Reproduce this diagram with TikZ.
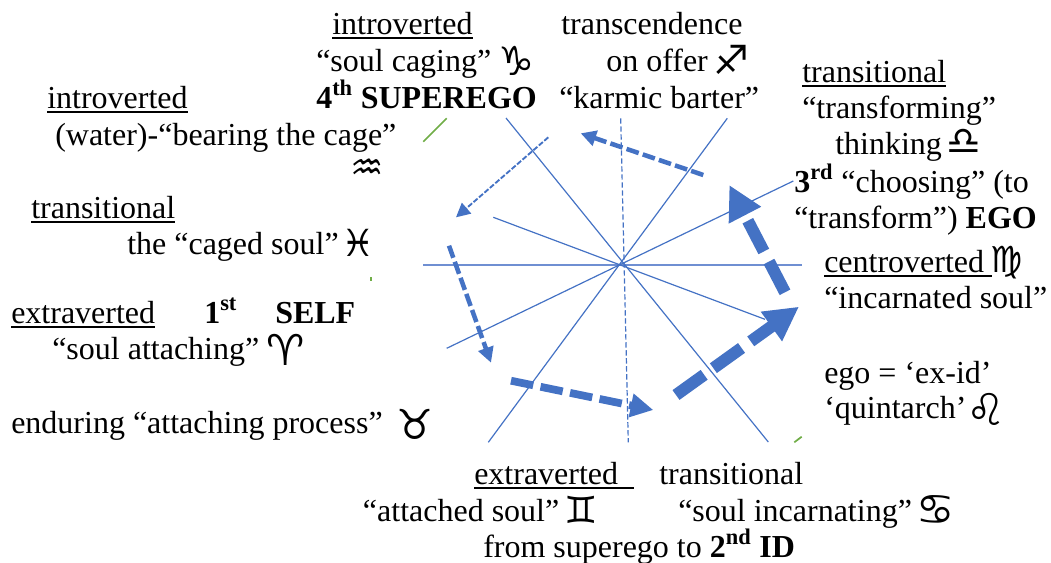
\documentclass[tikz,border=0pt]{standalone}
\usepackage{fontspec}
\setmainfont{Liberation Serif}
\newfontfamily\zodiac{DejaVu Sans}
\newcommand{\undr}[1]{\leavevmode\setbox0\hbox{#1}\rlap{\vrule height -2.4pt depth 3.9pt width\wd0}\box0}
\usetikzlibrary{arrows.meta}
\definecolor{spoke}{HTML}{4472C4}
\definecolor{axis}{HTML}{6F8FD2}
\definecolor{rim}{HTML}{70AD47}
\tikzset{
  txt/.style={anchor=base west,inner sep=0pt,yshift=-0.75pt,font=\fontsize{24}{28}\selectfont},
  sign/.style={inner sep=0pt,font=\zodiac\fontsize{#1}{#1}\selectfont},
  spk/.style={draw=spoke,line width=0.9pt},
  flowa/.style={draw=spoke,line width=1.4pt,dash pattern=on 4pt off 1.4pt,-{Triangle[length=10.5pt,width=10.5pt]},spoke},
  flowb/.style={draw=spoke,line width=3.4pt,dash pattern=on 9.6pt off 3.2pt,-{Triangle[length=11.5pt,width=11.5pt]},spoke},
  flowc/.style={draw=spoke,line width=5.8pt,dash pattern=on 17pt off 5.6pt,-{Triangle[length=17pt,width=17pt]},spoke},
  flowd/.style={draw=spoke,line width=9pt,dash pattern=on 26pt off 8.5pt,-{Triangle[length=25.5pt,width=25.5pt]},spoke}
}
\begin{document}
\begin{tikzpicture}[x=0.75pt,y=-0.75pt]
            \useasboundingbox (0,0) rectangle (1051,562);
            \coordinate (W) at (423,264.7);
            \coordinate (E) at (802,264.7);
            \coordinate (N) at (620.7,118.3);
            \coordinate (S) at (628.3,442.3);
            \coordinate (NW) at (506,118);
            \coordinate (SE) at (768.3,442);
            \coordinate (NE) at (727.3,118.3);
            \coordinate (SW) at (488.3,442.3);
            \coordinate (ENE) at (793.3,181);
            \coordinate (WSW) at (446.7,348.3);
            \coordinate (WNW) at (493.3,217.3);
            \coordinate (ESE) at (765,319.3);
            \draw [draw=axis,line width=1.3pt] (W) -- (E);
            \draw [spk,dash pattern=on 4pt off 2pt] (N) -- (S);
            \draw [spk] (NW) -- (SE);
            \draw [spk] (NE) -- (SW);
            \draw [spk] (ENE) -- (WSW);
            \draw [spk] (WNW) -- (ESE);
            \coordinate (rimA) at (423.3,141.7);
            \coordinate (rimB) at (446.7,118.3);
            \coordinate (rimC) at (794.3,442.3);
            \coordinate (rimD) at (801.7,436.7);
            \coordinate (rimE) at (371,277);
            \coordinate (rimF) at (371,281);
            \draw [draw=rim,line width=1.3pt] (rimA) -- (rimB);
            \draw [draw=rim,line width=1.3pt] (rimC) -- (rimD);
            \draw [draw=rim,line width=1.3pt] (rimE) -- (rimF);
            \coordinate (a1) at (548.3,137.3);
            \coordinate (a2) at (456,217.3);
            \coordinate (b1) at (703.3,175);
            \coordinate (b2) at (580.7,133.3);
            \coordinate (c1) at (449,245.7);
            \coordinate (c2) at (491,362.7);
            \coordinate (d1) at (511,380.7);
            \coordinate (d2) at (653.3,410);
            \coordinate (e1) at (676,395);
            \coordinate (e2) at (799,306.7);
            \coordinate (f1) at (785,292.3);
            \coordinate (f2) at (729.3,185);
            \draw [flowa] (a1) -- (a2);
            \draw [flowb] (b1) -- (b2);
            \draw [flowb] (c1) -- (c2);
            \draw [flowc] (d1) -- (d2);
            \draw [flowd] (e1) -- (e2);
            \draw [flowd] (f1) -- (f2);
            \node [txt] (cap4a) at (332,33) {\undr{introverted}};
            \node [txt] (cap4b) at (316,70) {“soul caging”};
            \node [sign=30] (capricorn) at (516,61) {♑};
            \node [txt] (cap4c) at (316,107) {\textbf{4\textsuperscript{th} SUPEREGO}};
            \node [txt] (aqu1) at (47,107) {\undr{introverted}};
            \node [txt] (aqu2) at (55,144) {(water)-“bearing the cage”};
            \node [sign=28] (aquarius) at (367,170) {♒};
            \node [txt] (pis1) at (31,217) {\undr{transitional}};
            \node [txt] (pis2) at (127,253) {the “caged soul”};
            \node [sign=28] (pisces) at (358,243) {♓};
            \node [txt] (ari1) at (11,322) {\undr{extraverted}};
            \node [txt] (ari2) at (204,322) {\textbf{1\textsuperscript{st}}};
            \node [txt] (ari3) at (275,322) {\textbf{SELF}};
            \node [txt] (ari4) at (52,358) {“soul attaching”};
            \node [sign=32] (aries) at (286,350) {♈};
            \node [txt] (tau1) at (11,432) {enduring “attaching process”};
            \node [sign=31] (taurus) at (415,424) {♉};
            \node [txt] (sag1) at (561,33) {transcendence};
            \node [txt] (sag2) at (606,70) {on offer};
            \node [sign=30] (sagittarius) at (731,60) {♐};
            \node [txt] (sag3) at (559,107) {“karmic barter”};
            \node [txt] (lib1) at (802,81) {\undr{transitional}};
            \node [txt] (lib2) at (802,117) {“transforming”};
            \node [txt] (lib3) at (835,153) {thinking};
            \node [sign=29] (libra) at (964,142) {♎};
            \node [txt] (lib4) at (794,191) {\textbf{3\textsuperscript{rd}} “choosing” (to};
            \node [txt] (lib5) at (794,227) {“transform”) \textbf{EGO}};
            \node [txt] (vir1) at (824,271) {\undr{centroverted\ }};
            \node [sign=27] (virgo) at (1007,263) {♍};
            \node [txt] (vir2) at (824,307) {“incarnated soul”};
            \node [txt] (leo1) at (824,382) {ego = ‘ex-id’};
            \node [txt] (leo2) at (824,417) {‘quintarch’};
            \node [sign=33] (leo) at (986,409) {♌};
            \node [txt] (gem1) at (474,483) {\undr{extraverted\ \ }};
            \node [txt] (can1) at (659,483) {transitional};
            \node [txt] (gem2) at (362.7,520) {“attached soul”};
            \node [sign=28] (gemini) at (581,510) {♊};
            \node [txt] (can2) at (678,520) {“soul incarnating”};
            \node [sign=32] (cancer) at (936,510) {♋};
            \node [txt] (gem3) at (483,556) {from superego to \textbf{2\textsuperscript{nd} ID}};
        \end{tikzpicture}
\end{document}
